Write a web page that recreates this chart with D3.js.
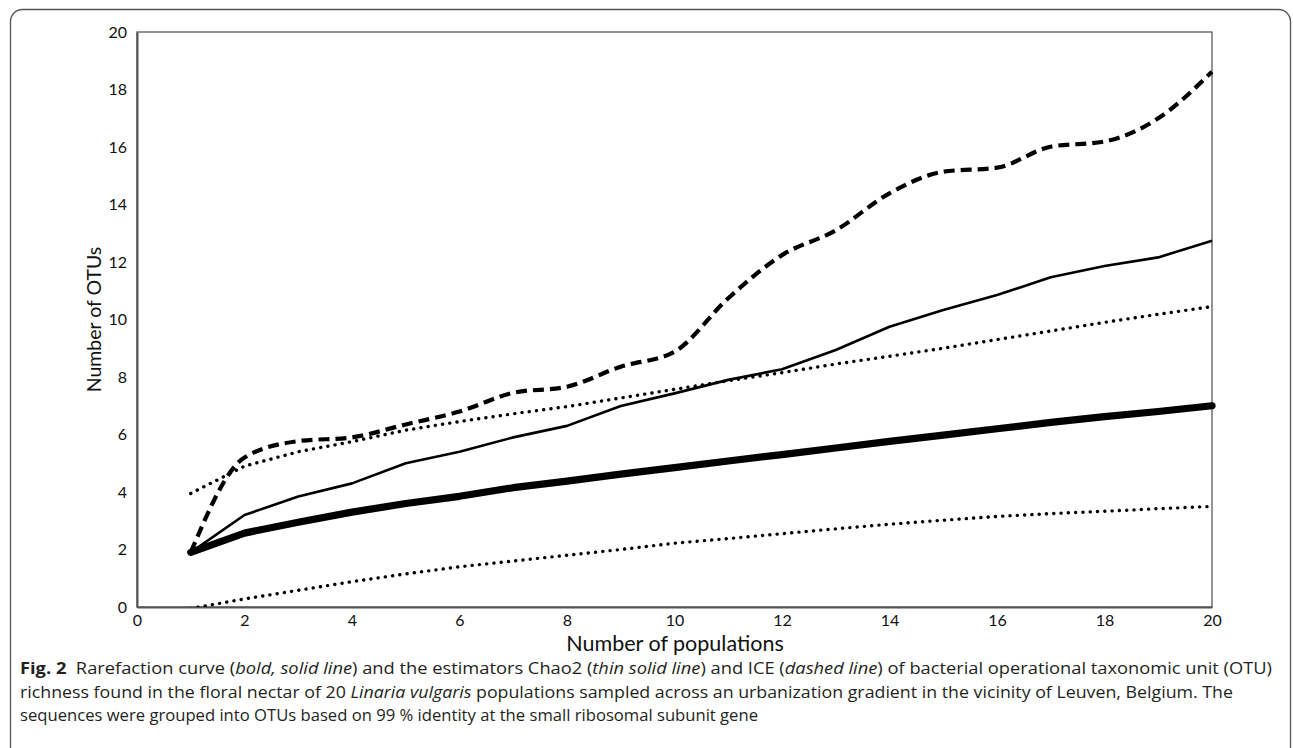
<!DOCTYPE html>
<html><head><meta charset="utf-8">
<script src="https://cdn.jsdelivr.net/npm/d3@7"></script>
<style>
html,body{margin:0;padding:0;background:#fff;}
svg{display:block;}
</style></head>
<body>
<svg id="chart" width="1293" height="748"></svg>
<script>
const populations = [1,2,3,4,5,6,7,8,9,10,11,12,13,14,15,16,17,18,19,20];
const rarefaction = [1.9,2.57,2.95,3.3,3.6,3.85,4.15,4.38,4.62,4.85,5.08,5.3,5.53,5.76,5.98,6.2,6.42,6.62,6.8,7.0];
const lowerCI = [-0.05,0.28,0.58,0.88,1.15,1.4,1.6,1.8,2.0,2.22,2.38,2.55,2.72,2.88,3.02,3.15,3.25,3.33,3.42,3.5];
const upperCI = [3.95,4.9,5.4,5.75,6.15,6.45,6.72,6.97,7.27,7.57,7.87,8.15,8.45,8.72,9.0,9.3,9.6,9.9,10.18,10.45];
const chao2 = [1.9,3.2,3.84,4.3,5.0,5.4,5.9,6.3,6.99,7.43,7.9,8.27,8.94,9.75,10.33,10.85,11.47,11.86,12.16,12.74];
const ice = [1.9,5.2,5.77,5.9,6.35,6.8,7.45,7.66,8.36,8.88,10.74,12.24,13.1,14.39,15.14,15.28,16.01,16.19,17.0,18.62];
const xTicks = [0,2,4,6,8,10,12,14,16,18,20];
const yTicks = [0,2,4,6,8,10,12,14,16,18,20];
const xTitle = "Number of populations";
const yTitle = "Number of OTUs";
const captionLines = [
  [{t:"Fig. 2",b:true},{t:"  Rarefaction curve ("},{t:"bold, solid line",i:true},{t:") and the estimators Chao2 ("},{t:"thin solid line",i:true},{t:") and ICE ("},{t:"dashed line",i:true},{t:") of bacterial operational taxonomic unit (OTU)"}],
  [{t:"richness found in the floral nectar of 20 "},{t:"Linaria vulgaris",i:true},{t:" populations sampled across an urbanization gradient in the vicinity of Leuven, Belgium. The"}],
  [{t:"sequences were grouped into OTUs based on 99 % identity at the small ribosomal subunit gene"}]
];
const captionWidths = [1252, 1213, 738];

const svg = d3.select("#chart");
const L = 137, R = 1212, T = 32, B = 607;
const x = d3.scaleLinear().domain([0,20]).range([L,R]);
const y = d3.scaleLinear().domain([0,20]).range([B,T]);

// outer rounded frame
svg.append("rect").attr("x",10.5).attr("y",9.5).attr("width",1280).attr("height",770)
  .attr("rx",12).attr("fill","none").attr("stroke","#555").attr("stroke-width",1.3);

svg.append("defs").append("clipPath").attr("id","clip")
  .append("rect").attr("x",L).attr("y",T-10).attr("width",R-L+10).attr("height",B-T+10);

// plot frame
svg.append("rect").attr("x",L).attr("y",T).attr("width",R-L).attr("height",B-T)
  .attr("fill","none").attr("stroke","#5a5a5a").attr("stroke-width",1.3);

const ff = "Lato, 'Open Sans', sans-serif";
const ya = svg.append("g").attr("transform",`translate(${L},0)`)
  .call(d3.axisLeft(y).tickValues(yTicks).tickSize(0).tickPadding(10).tickFormat(d3.format("d")));
ya.select(".domain").attr("stroke","#555").attr("stroke-width",2);
ya.selectAll("text").attr("font-family",ff).attr("font-size",16).attr("fill","#111");

const xa = svg.append("g").attr("transform",`translate(0,${B})`)
  .call(d3.axisBottom(x).tickValues(xTicks).tickSize(0).tickPadding(8).tickFormat(d3.format("d")));
xa.select(".domain").attr("stroke","#555").attr("stroke-width",2);
xa.selectAll("text").attr("font-family",ff).attr("font-size",16).attr("fill","#111");

svg.append("text").attr("x",675).attr("y",651).attr("text-anchor","middle")
  .attr("font-family",ff).attr("font-size",21.5).attr("fill","#111").text(xTitle);
svg.append("text").attr("transform",`translate(101,${(T+B)/2}) rotate(-90)`).attr("text-anchor","middle")
  .attr("font-family",ff).attr("font-size",19.5).attr("fill","#111").text(yTitle);

const g = svg.append("g").attr("clip-path","url(#clip)");
const mk = (vals, curve) => d3.line().x((d,i)=>x(populations[i])).y(d=>y(d)).curve(curve||d3.curveLinear)(vals);

g.append("path").attr("d",mk(lowerCI)).attr("fill","none").attr("stroke","#000")
  .attr("stroke-width",3.4).attr("stroke-linecap","round").attr("stroke-dasharray","0.1 7.2");
g.append("path").attr("d",mk(upperCI)).attr("fill","none").attr("stroke","#000")
  .attr("stroke-width",3.4).attr("stroke-linecap","round").attr("stroke-dasharray","0.1 7.2");
g.append("path").attr("d",mk(chao2)).attr("fill","none").attr("stroke","#000")
  .attr("stroke-width",2.6).attr("stroke-linejoin","round");
g.append("path").attr("d",mk(ice, d3.curveMonotoneX)).attr("fill","none").attr("stroke","#000")
  .attr("stroke-width",4.2).attr("stroke-dasharray","11 6").attr("stroke-linejoin","round");
g.append("path").attr("d",mk(rarefaction)).attr("fill","none").attr("stroke","#000")
  .attr("stroke-width",7.2).attr("stroke-linecap","round").attr("stroke-linejoin","round");

// caption
const capY = [674, 697.5, 721];
captionLines.forEach((line, li) => {
  const t = svg.append("text").attr("x",20).attr("y",capY[li])
    .attr("font-family","'Open Sans', sans-serif").attr("font-size",15.5).attr("fill","#231f20")
    .attr("xml:space","preserve").style("white-space","pre");
  line.forEach(s => {
    const sp = t.append("tspan").text(s.t);
    if (s.b) sp.attr("font-weight","bold");
    if (s.i) sp.attr("font-style","italic");
  });
  t.attr("textLength",captionWidths[li]).attr("lengthAdjust","spacingAndGlyphs");
});
</script>
</body></html>
